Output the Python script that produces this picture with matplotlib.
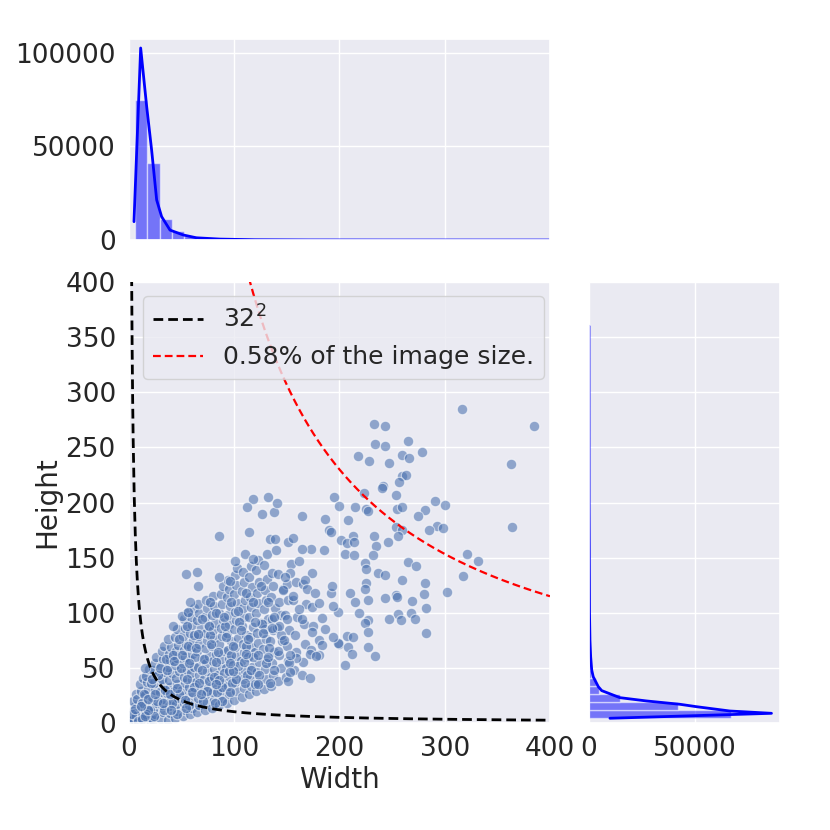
import numpy as np
import matplotlib
matplotlib.use("Agg")
import matplotlib.pyplot as plt
import seaborn as sns

# box sizes (width, height)
cloud = [
    (3,2),(5,6),(4,11),(6,15),(4,20),(7,26),(2,5),(8,3),
    (9,3),(11,8),(10,12),(12,17),(8,22),(11,29),(10,35),(13,41),(12,5),(14,11),
    (16,4),(18,9),(17,14),(19,20),(15,25),(18,31),(17,37),(16,43),(19,49),(20,3),
    (23,3),(25,8),(24,14),(26,18),(22,24),(25,30),(24,36),(27,42),(23,48),(25,54),(26,60),
    (30,4),(32,10),(31,16),(33,22),(29,28),(32,35),(31,40),(34,46),(30,52),(32,58),(31,65),(33,70),
    (37,3),(39,9),(38,15),(40,21),(36,27),(39,33),(38,39),(41,45),(37,51),(39,57),(38,63),(40,69),(37,76),
    (44,5),(46,11),(45,17),(47,23),(43,29),(46,35),(45,41),(48,47),(44,53),(46,59),(45,65),(47,71),(44,78),(46,85),
    (51,6),(53,12),(52,18),(54,24),(50,30),(53,36),(52,42),(55,48),(51,54),(53,60),(52,66),(54,72),(51,79),(53,86),(52,94),(55,100),
    (58,8),(60,14),(59,20),(61,27),(57,33),(60,39),(59,45),(62,51),(58,57),(60,63),(59,69),(61,75),(58,82),(60,89),(59,96),(62,104),
    (65,10),(67,16),(66,23),(68,30),(64,37),(67,44),(66,51),(69,58),(65,65),(67,72),(66,79),(68,86),(65,93),(67,100),(66,108),
    (72,12),(74,19),(73,26),(75,33),(71,40),(74,47),(73,54),(76,61),(72,68),(74,75),(73,82),(75,89),(72,96),(74,104),(73,112),
    (79,14),(81,21),(80,28),(82,35),(78,42),(81,49),(80,56),(83,63),(79,70),(81,77),(80,84),(82,91),(79,98),(81,106),(80,115),
    (86,16),(88,23),(87,30),(89,37),(85,44),(88,51),(87,58),(90,65),(86,72),(88,79),(87,86),(89,93),(86,100),(88,108),(87,117),(89,124),
    (93,18),(95,26),(94,34),(96,42),(92,50),(95,58),(94,66),(97,74),(93,82),(95,90),(94,98),(96,106),(93,114),(95,122),(94,130),
    (100,21),(102,29),(101,37),(103,45),(99,53),(102,61),(101,69),(104,77),(100,85),(102,93),(101,101),(103,109),(100,117),(102,125),(101,134),(103,141),
    (107,24),(109,32),(108,40),(110,48),(106,56),(109,64),(108,72),(111,80),(107,88),(109,96),(108,104),(110,112),(107,120),(109,128),(108,137),
    (114,26),(116,34),(115,42),(117,51),(113,60),(116,69),(115,78),(118,87),(114,96),(116,105),(115,114),(117,123),(114,132),(116,142),
    (121,29),(123,37),(122,46),(124,55),(120,64),(123,73),(122,82),(125,91),(121,100),(123,109),(122,118),(124,128),(121,139),(123,148),
    (128,31),(130,40),(129,49),(131,58),(127,67),(130,76),(129,85),(132,94),(128,103),(130,112),(129,121),(131,131),(128,143),
    (135,34),(137,44),(136,54),(138,64),(134,74),(137,84),(136,94),(139,104),(135,114),(137,124),(136,136),
    (142,38),(144,50),(143,62),(145,74),(141,86),(144,98),(143,110),(146,122),(142,135),
    (149,42),(151,56),(150,70),(152,84),(148,98),(151,112),(150,126),
    (157,48),(159,64),(158,80),(160,96),(156,112),(159,128),
    (165,55),(167,72),(166,90),(168,108),(165,126),
    (173,66),(175,88),(174,105),(181,75),(183,95),
    (20,12),(27,20),(34,30),(41,18),(48,26),(55,40),(62,33),(69,48),(76,38),(83,55),
    (90,45),(97,62),(104,52),(111,70),(118,60),(63,60),(70,20),(84,28),(98,36),(112,44),
    (49,50),(56,70),(77,80),(91,88),(105,92),(28,44),(35,58),(42,62),(14,26),(21,36),
    (12,18),(6,9),(16,8),(24,6),(33,12),(46,8),(57,16),(88,20),(120,35),(126,90),
    (2,2),(4,4),(7,6),(3,8),(9,2),(12,4),(6,13),(15,6),(18,12),(11,15),
    (18,22),(25,26),(32,18),(39,26),(46,32),(53,21),(60,28),(67,36),(74,29),(81,42),
    (88,33),(95,47),(102,40),(109,55),(116,48),(123,62),(130,54),
    (22,40),(29,50),(36,48),(43,56),(50,62),(57,54),(64,68),(71,58),(78,72),(85,64),
    (92,78),(99,70),(106,84),(113,76),(120,92),(127,82),
    (48,76),(55,88),(62,80),(69,94),(76,88),(83,100),(90,96),(97,110),(104,102),
    (111,118),(118,110),(125,124),
    (40,12),(54,14),(68,26),(82,18),(96,28),(110,36),(124,44),(138,48),(144,80),(138,96),(132,110),
]
sparse = [
    (316,285),(385,269),(233,271),(243,269),(234,253),(243,251),(265,256),(278,246),
    (259,243),(266,240),(218,242),(228,238),(247,236),(363,235),(259,224),(263,225),
    (257,219),(241,215),(240,213),(223,209),(195,205),(254,207),(291,201),(300,198),
    (281,193),(275,188),(200,197),(215,196),(225,194),(227,192),(255,194),(259,196),
    (186,185),(208,184),(364,178),(293,179),(298,177),(285,175),(254,178),(259,175),
    (190,175),(192,173),(233,170),(256,170),(213,170),(201,166),(207,163),(214,164),
    (246,164),(235,161),(173,158),(185,157),(321,153),(332,147),(317,133),(302,119),
    (232,152),(205,153),(214,152),(265,146),(273,142),(224,145),(225,140),(237,136),
    (243,134),(259,130),(281,127),(280,117),(225,127),(224,122),(210,118),(192,118),
    (193,124),(254,116),(255,114),(243,113),(269,111),(282,104),(268,100),(256,99),
    (247,94),(258,93),(272,94),(282,82),(227,112),(215,110),(219,100),(227,93),
    (224,91),(227,83),(207,79),(213,78),(200,72),(227,69),(208,69),(234,61),
    (212,63),(205,53),(199,101),(186,85),(194,106),(164,188),(138,191),(141,200),
    (132,205),(118,203),(112,196),(126,190),(86,170),(114,173),(65,137),(54,135),
    (66,124),(86,132),(96,129),(101,147),(110,153),(118,149),(131,153),(134,167),
    (139,167),(140,157),(151,164),(156,168),(164,158),(154,144),(162,147),(174,136),
    (153,136),(167,130),(169,122),(177,118),(181,109),(148,132),(146,121),(156,115),
    (162,103),(150,94),(164,94),(174,83),(183,71),(199,73),(194,78),(181,62),
    (172,63),(178,61),(159,59),(152,54),(164,44),(172,41),(151,38),(153,46),
    (153,62),(142,65),(147,75),(143,88),(136,86),(133,68),(132,60),(134,36),
    (123,35),(86,39),(83,35),(111,63),(99,47),(96,54),(66,81),(42,88),
    (50,97),(58,110),(77,110),(56,101),(15,50),
]
boxes = cloud + sparse
box_w = [b[0] for b in boxes]
box_h = [b[1] for b in boxes]

# marginal histogram counts
top_bin_start, top_bin_width = 5.7, 11.7
top_counts = [74900, 41200, 11200, 4800, 2200, 1100, 600, 380, 250, 170, 120, 90, 70, 55, 45,
              38, 32, 27, 23, 20, 17, 15, 13, 11, 10, 9, 8, 7, 6, 5, 5, 4, 4]
right_bin_start, right_bin_width = 5.0, 7.25
right_counts = [67300, 42100, 14600, 4900, 3300, 1100, 700, 480, 350, 260, 200, 160, 130, 110,
                90, 75, 65, 55, 48, 42, 37, 33, 29, 26, 23, 21, 19, 17, 15, 14, 13, 12, 11, 10,
                9, 8, 8, 7, 7, 6, 6, 5, 5, 5, 4, 4, 4, 3, 3]

# kde curves (scaled to counts)
top_kde_w = [4.75, 11.1, 16.8, 21.5, 26.3, 31, 39, 51.6, 64, 86.5, 120, 170, 250, 400]
top_kde_n = [9800, 102500, 71300, 48100, 21400, 12500, 5300, 2700, 1200, 500, 150, 40, 8, 0]
right_kde_h = [4.3, 8.8, 10.9, 14.8, 17, 20, 23, 29.4, 33, 42, 48, 60, 75, 100, 200, 360]
right_kde_n = [9900, 86200, 66500, 50800, 42900, 27200, 14600, 6000, 4400, 2000, 1300, 800, 470, 250, 60, 10]

area_small = 32 ** 2
area_rel = 46000

sns.set_theme(style="darkgrid")
plt.rcParams["font.family"] = ["DejaVu Sans"]

fig = plt.figure(figsize=(8.3, 8.3), dpi=100)
ax = fig.add_axes([0.1554, 0.1289, 0.5072, 0.5313])
ax_top = fig.add_axes([0.1554, 0.7108, 0.5072, 0.2422], sharex=ax)
ax_right = fig.add_axes([0.7096, 0.1289, 0.2301, 0.5313], sharey=ax)

ax.scatter(box_w, box_h, s=56, c="#4c72b0", alpha=0.58, edgecolors="white", linewidths=0.8, zorder=2)

xs = np.linspace(2.0, 400, 800)
ax.plot(xs, area_small / xs, color="black", ls=(0, (3.5, 1.8)), lw=2, label="$32^2$", zorder=3)
ax.plot(xs, area_rel / xs, color="red", ls=(0, (3.5, 1.8)), lw=1.6, label="0.58% of the image size.", zorder=3)

ax.set_xlim(0, 400)
ax.set_ylim(0, 400)
ax.set_xticks([0, 100, 200, 300, 400])
ax.set_yticks(range(0, 401, 50))
ax.set_xlabel("Width", fontsize=20, labelpad=3)
ax.set_ylabel("Height", fontsize=20, labelpad=3)
ax.tick_params(labelsize=19)
ax.legend(loc="upper left", fontsize=18, borderaxespad=0.55)

top_edges = top_bin_start + top_bin_width * np.arange(len(top_counts))
ax_top.bar(top_edges, top_counts, width=top_bin_width, align="edge",
           color="blue", alpha=0.5, edgecolor="white", linewidth=1)
ax_top.plot(top_kde_w, top_kde_n, color="blue", lw=2)
ax_top.set_ylim(0, 107300)
ax_top.set_yticks([0, 50000, 100000])
ax_top.tick_params(labelsize=19, labelbottom=False)

right_edges = right_bin_start + right_bin_width * np.arange(len(right_counts))
ax_right.barh(right_edges, right_counts, height=right_bin_width, align="edge",
              color="blue", alpha=0.5, edgecolor="white", linewidth=1)
ax_right.plot(right_kde_n, right_kde_h, color="blue", lw=2)
ax_right.set_xlim(0, 90200)
ax_right.set_xticks([0, 50000])
ax_right.tick_params(labelsize=19, labelleft=False)

fig.savefig("out.png", dpi=100)
